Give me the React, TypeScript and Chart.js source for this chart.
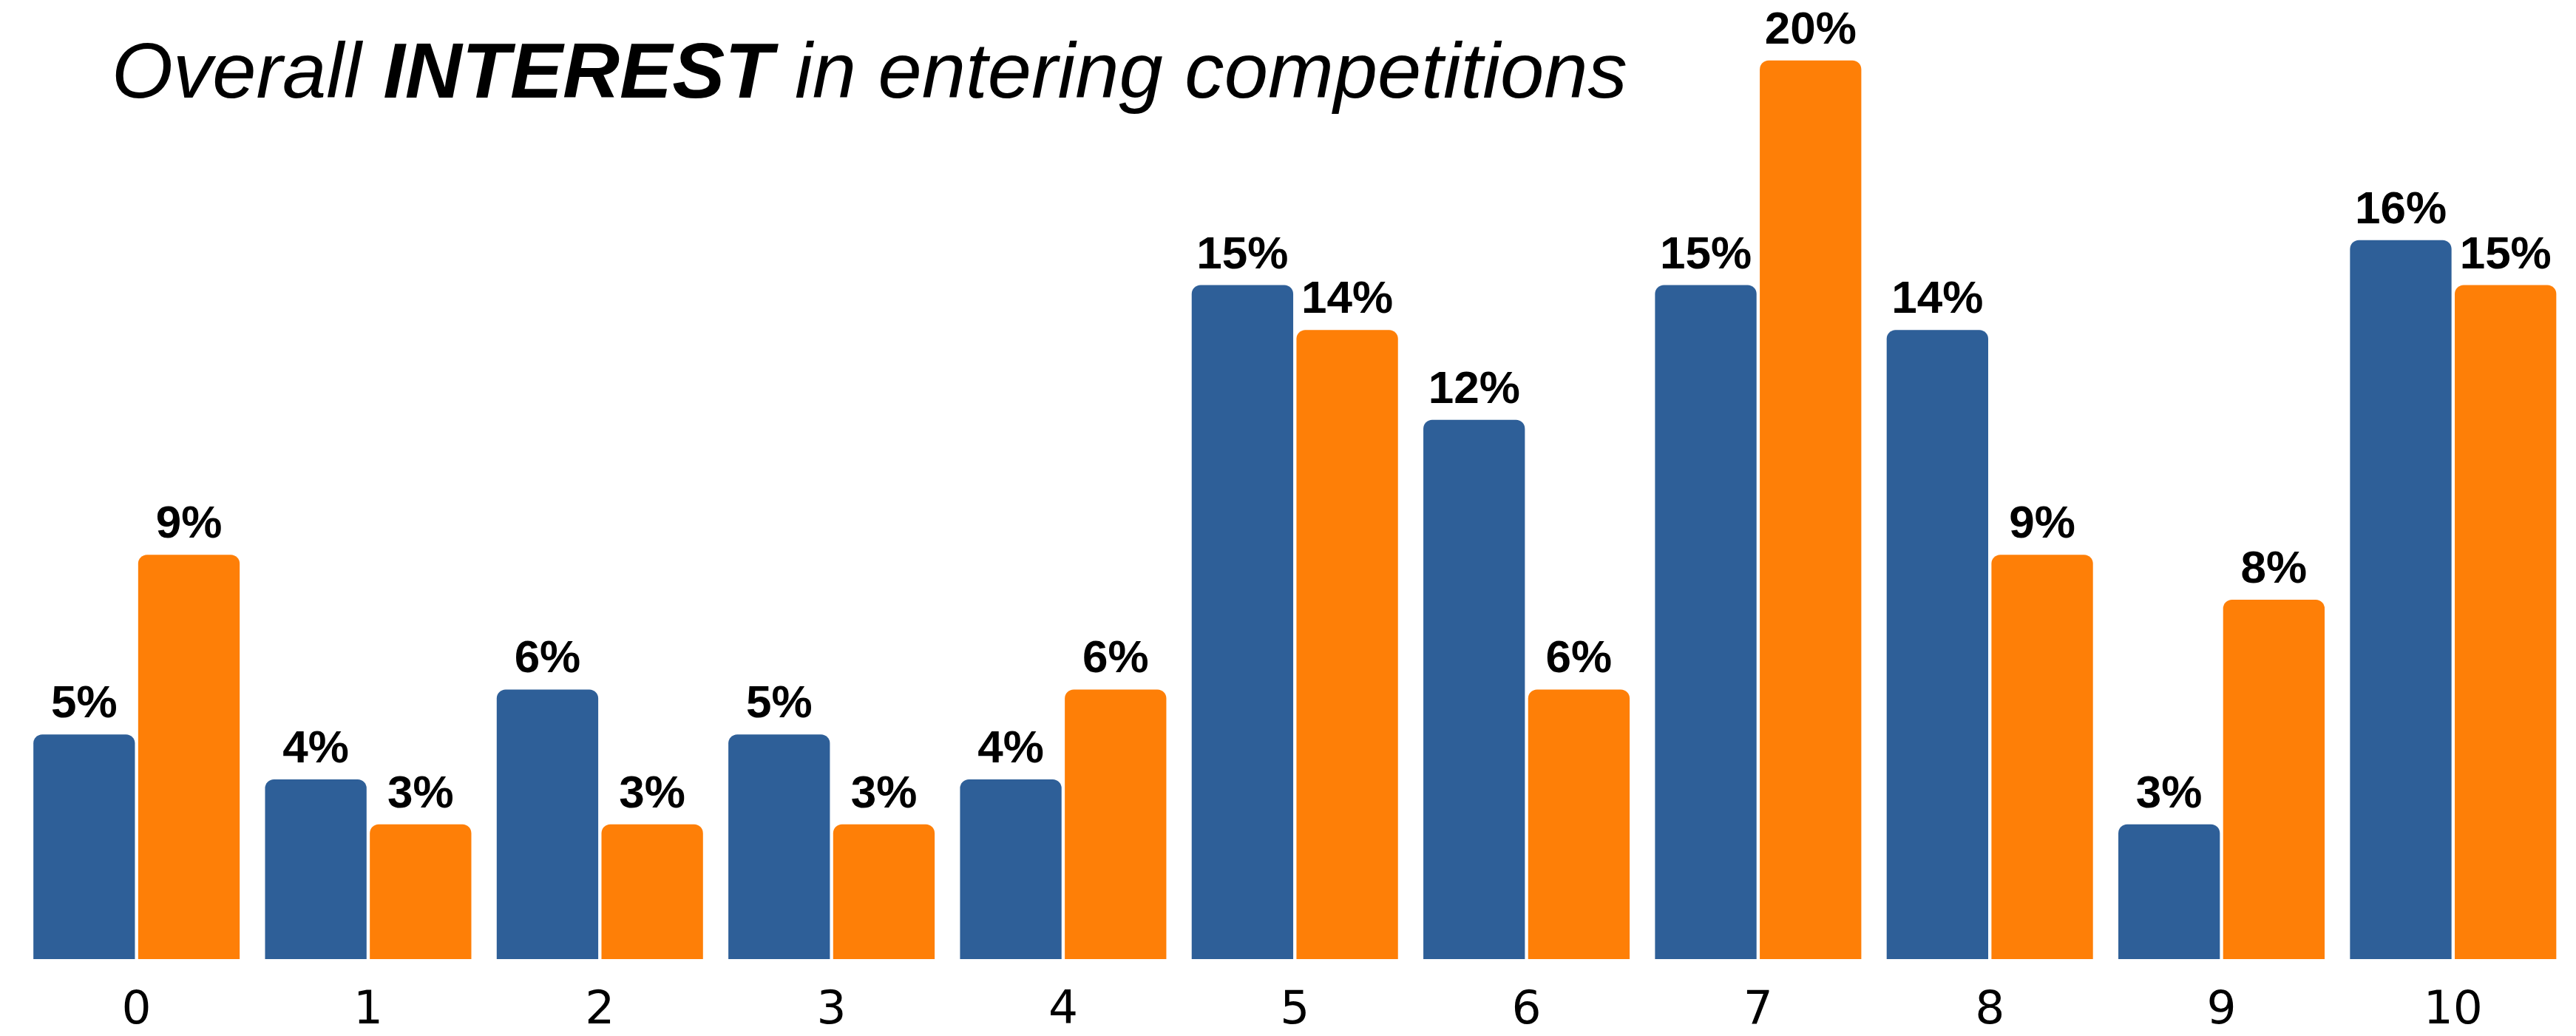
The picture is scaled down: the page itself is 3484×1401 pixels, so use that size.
import React, { useEffect, useRef } from "react";
import { Chart, registerables } from "chart.js";

Chart.register(...registerables);

// ---- data ----
const categories = ["0", "1", "2", "3", "4", "5", "6", "7", "8", "9", "10"];
const seriesA = [5, 4, 6, 5, 4, 15, 12, 15, 14, 3, 16];
const seriesB = [9, 3, 3, 3, 6, 14, 6, 20, 9, 8, 15];
const seriesNames = ["Series A", "Series B"];
const yMax = 21;

const W = 3484;
const H = 1401;
const BLUE = "#2e5f98";
const ORANGE = "#fe7f07";

const barLabelPlugin = {
  id: "barLabels",
  afterDatasetsDraw(chart: any) {
    const ctx = chart.ctx;
    ctx.save();
    ctx.font = "bold 62px 'Liberation Sans', Arial, sans-serif";
    ctx.fillStyle = "#000";
    ctx.textAlign = "center";
    ctx.textBaseline = "alphabetic";
    chart.data.datasets.forEach((ds: any, i: number) => {
      const meta = chart.getDatasetMeta(i);
      meta.data.forEach((bar: any, j: number) => {
        ctx.fillText(`${ds.data[j]}%`, bar.x, bar.y - 23);
      });
    });
    ctx.restore();
  },
};

export default function App() {
  const ref = useRef<HTMLCanvasElement | null>(null);

  useEffect(() => {
    if (!ref.current) return;
    const common = {
      categoryPercentage: 0.9045,
      barPercentage: 0.969,
      borderRadius: 12,
      borderSkipped: "start" as const,
    };
    const chart = new Chart(ref.current, {
      type: "bar",
      data: {
        labels: categories,
        datasets: [
          { label: seriesNames[0], data: seriesA, backgroundColor: BLUE, ...common },
          { label: seriesNames[1], data: seriesB, backgroundColor: ORANGE, ...common },
        ],
      },
      options: {
        responsive: false,
        animation: false,
        layout: { padding: { left: 28, right: 9.5, top: 21, bottom: 0 } },
        plugins: {
          legend: { display: false },
          tooltip: { enabled: false },
          title: { display: false },
        },
        scales: {
          x: {
            grid: { display: false, drawTicks: false },
            border: { display: false },
            ticks: {
              color: "#000",
              font: { family: "'DejaVu Sans', sans-serif", size: 63, lineHeight: 1 },
              padding: 39,
            },
            afterFit: (s: any) => {
              s.height = 104;
            },
          },
          y: { display: false, min: 0, max: yMax },
        },
      },
      plugins: [barLabelPlugin],
    });
    return () => chart.destroy();
  }, []);

  return (
    <div style={{ position: "fixed", left: 0, top: 0, width: W, height: H, background: "#fff" }}>
      <canvas ref={ref} width={W} height={H} style={{ display: "block", width: W, height: H }} />
      <div
        style={{
          position: "absolute",
          left: 151,
          top: 42,
          fontFamily: "'Liberation Sans', Arial, sans-serif",
          fontSize: 106.6,
          fontStyle: "italic",
          lineHeight: 1,
          whiteSpace: "nowrap",
          color: "#000",
        }}
      >
        Overall <b>INTEREST</b> in entering competitions
      </div>
    </div>
  );
}
